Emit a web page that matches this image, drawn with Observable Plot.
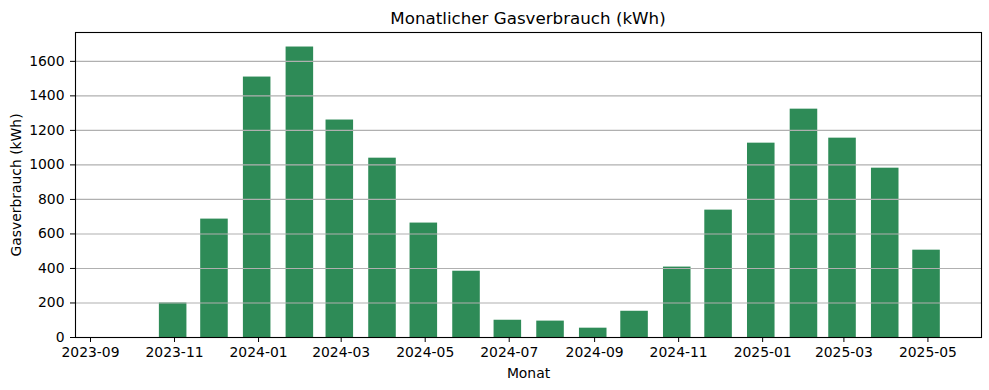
<!DOCTYPE html>
<html>
<head>
<meta charset="utf-8">
<script src="https://cdn.jsdelivr.net/npm/d3@7"></script>
<script src="https://cdn.jsdelivr.net/npm/@observablehq/plot@0.6"></script>
<style>
  html, body { margin: 0; padding: 0; background: #fff; }
  #title {
    height: 26px; box-sizing: border-box; width: 981px;
    padding-top: 10px; padding-left: 75px;
    text-align: center; color: #000;
    font-family: "DejaVu Sans", sans-serif; font-size: 16.7px; line-height: 16.7px;
    white-space: nowrap;
  }
</style>
</head>
<body>
<div id="title">Monatlicher Gasverbrauch (kWh)</div>
<div id="chart"></div>
<script>
// Month-end dates (bar positions) and consumption in kWh
const months = [
  "2023-09-30", "2023-10-31", "2023-11-30", "2023-12-31",
  "2024-01-31", "2024-02-29", "2024-03-31", "2024-04-30",
  "2024-05-31", "2024-06-30", "2024-07-31", "2024-08-31",
  "2024-09-30", "2024-10-31", "2024-11-30", "2024-12-31",
  "2025-01-31", "2025-02-28", "2025-03-31", "2025-04-30"
];
const consumption = [
  0, 200, 686, 1509,
  1683, 1260, 1039, 663,
  384, 100, 95, 54,
  152, 408, 738, 1126,
  1323, 1155, 981, 506
];
const xTickLabels = ["2023-09", "2023-11", "2024-01", "2024-03", "2024-05", "2024-07",
                     "2024-09", "2024-11", "2025-01", "2025-03", "2025-05"];
const yTicks = [0, 200, 400, 600, 800, 1000, 1200, 1400, 1600];

const DAY = 864e5;
const halfWidth = 10 * DAY;
const data = months.map((m, i) => ({date: new Date(m + "T00:00:00Z"), value: consumption[i]}));
const xLo = +data[0].date - halfWidth;
const xHi = +data[data.length - 1].date + halfWidth;
const pad = 0.05 * (xHi - xLo);
const xDomain = [new Date(xLo - pad), new Date(xHi + pad)];
const yMax = d3.max(consumption) * 1.05;
const xTicks = xTickLabels.map(s => new Date(s + "-01T00:00:00Z"));

const chart = Plot.plot({
  width: 989,
  height: 364,
  marginTop: 6,
  marginRight: 8,
  marginBottom: 53,
  marginLeft: 75,
  style: {fontFamily: "'DejaVu Sans', sans-serif", fontSize: "13.9px", color: "#000", background: "#fff", overflow: "visible"},
  x: {
    type: "utc", domain: xDomain, ticks: xTicks, tickFormat: d3.utcFormat("%Y-%m"),
    label: "Monat", labelAnchor: "center", labelArrow: "none", labelOffset: 40,
    tickSize: 5, tickPadding: 5
  },
  y: {
    domain: [0, yMax], ticks: yTicks, tickFormat: d3.format("d"),
    label: "Gasverbrauch (kWh)", labelAnchor: "center", labelArrow: "none", labelOffset: 64,
    tickSize: 5, tickPadding: 6
  },
  marks: [
    Plot.rectY(data, {
      x1: d => new Date(+d.date - halfWidth),
      x2: d => new Date(+d.date + halfWidth),
      y: "value",
      fill: "#2e8b57"
    }),
    Plot.gridY(yTicks, {stroke: "#b0b0b0", strokeOpacity: 1, strokeWidth: 1.1}),
    Plot.frame({stroke: "#000", strokeWidth: 1.1})
  ]
});
document.getElementById("chart").appendChild(chart);
</script>
</body>
</html>
